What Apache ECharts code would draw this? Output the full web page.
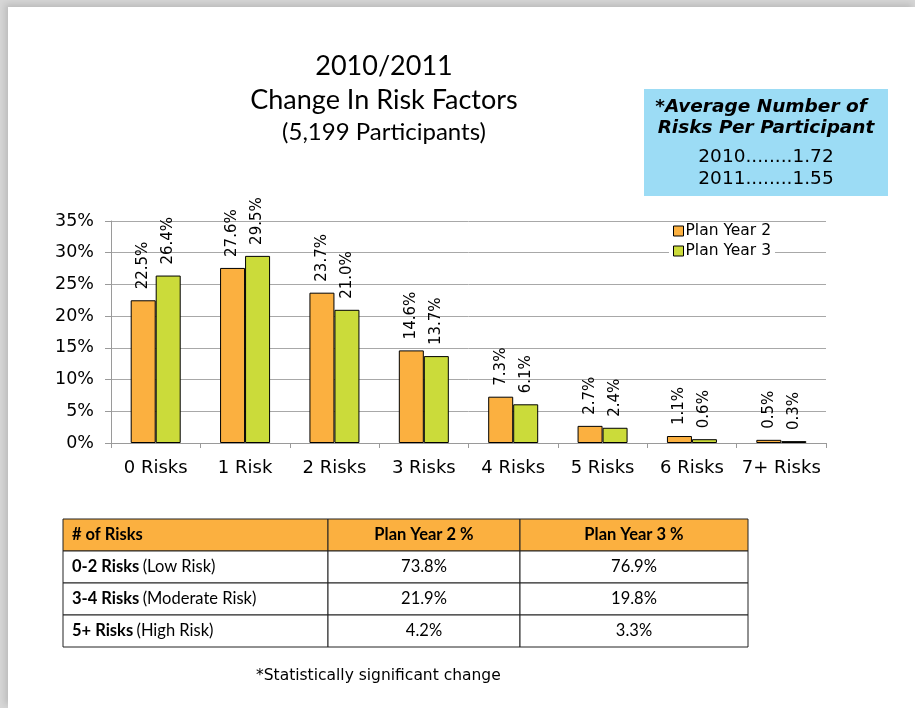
<!DOCTYPE html>
<html>
<head>
<meta charset="utf-8">
<script src="https://cdn.jsdelivr.net/npm/echarts@6/dist/echarts.min.js"></script>
<style>
  html, body { margin: 0; padding: 0; }
  body { width: 915px; height: 708px; background: #d6d6d6; position: relative; overflow: hidden; }
  #paper { position: absolute; left: 8px; top: 7px; right: 0; bottom: 0; background: #fff; box-shadow: -3px -3px 6px rgba(0,0,0,0.12); }
  #chart { position: absolute; left: 0; top: 0; width: 915px; height: 708px; }
</style>
</head>
<body>
<div id="paper"></div>
<div id="chart"></div>
<script>
// bar chart data
const categories = ["0 Risks", "1 Risk", "2 Risks", "3 Risks", "4 Risks", "5 Risks", "6 Risks", "7+ Risks"];
const planYear2 = [22.5, 27.6, 23.7, 14.6, 7.3, 2.7, 1.1, 0.5];
const planYear3 = [26.4, 29.5, 21.0, 13.7, 6.1, 2.4, 0.6, 0.3];

// blue box
const avgYears = ["2010", "2011"];
const avgValues = ["1.72", "1.55"];

// summary table
const tableHeader = ["# of Risks", "Plan Year 2 %", "Plan Year 3 %"];
const tableGroups = ["0-2 Risks", "3-4 Risks", "5+ Risks"];
const tableLevels = ["(Low Risk)", "(Moderate Risk)", "(High Risk)"];
const tableYear2 = ["73.8%", "21.9%", "4.2%"];
const tableYear3 = ["76.9%", "19.8%", "3.3%"];

const orange = "#fbb040";
const green = "#cbdb3a";
const verdana = "DejaVu Sans";
const calibri = "Lato";
const tableFont = "16.5px " + calibri;

var chart = echarts.init(document.getElementById("chart"));

// table built as graphic elements
var colX = [63, 328, 520, 748];
var rowY = [519, 551, 583, 615, 647];
var tableEls = [];
for (var r = 0; r < 4; r++) {
  for (var c = 0; c < 3; c++) {
    tableEls.push({
      type: "rect",
      shape: { x: colX[c], y: rowY[r], width: colX[c + 1] - colX[c], height: rowY[r + 1] - rowY[r] },
      style: { fill: r === 0 ? orange : "#fff", stroke: "#222", lineWidth: 1 }
    });
  }
}
// header texts
tableEls.push({
  type: "text", x: colX[0] + 9, y: (rowY[0] + rowY[1]) / 2,
  style: { text: tableHeader[0], font: "bold " + tableFont, fill: "#000", verticalAlign: "middle" }
});
for (var c = 1; c < 3; c++) {
  tableEls.push({
    type: "text", x: (colX[c] + colX[c + 1]) / 2, y: (rowY[0] + rowY[1]) / 2,
    style: { text: tableHeader[c], font: "bold " + tableFont, fill: "#000", align: "center", verticalAlign: "middle" }
  });
}
for (var i = 0; i < tableGroups.length; i++) {
  var cy = (rowY[i + 1] + rowY[i + 2]) / 2;
  tableEls.push({
    type: "text", x: colX[0] + 9, y: cy,
    style: {
      text: "{b|" + tableGroups[i] + "} {n|" + tableLevels[i] + "}",
      verticalAlign: "middle",
      rich: {
        b: { font: "bold " + tableFont, fill: "#000" },
        n: { font: tableFont, fill: "#000" }
      }
    }
  });
  tableEls.push({
    type: "text", x: (colX[1] + colX[2]) / 2, y: cy,
    style: { text: tableYear2[i], font: tableFont, fill: "#000", align: "center", verticalAlign: "middle" }
  });
  tableEls.push({
    type: "text", x: (colX[2] + colX[3]) / 2, y: cy,
    style: { text: tableYear3[i], font: tableFont, fill: "#000", align: "center", verticalAlign: "middle" }
  });
}

var barLabel = {
  show: true, position: "top", rotate: 90, align: "left", verticalAlign: "middle", distance: 11,
  fontFamily: verdana, fontSize: 15, color: "#000",
  formatter: function (p) { return p.value.toFixed(1) + "%"; }
};

var option = {
  backgroundColor: "transparent",
  animation: false,
  title: {
    text: "2010/2011\nChange In Risk Factors",
    subtext: "(5,199 Participants)",
    left: 379,
    top: 44,
    textAlign: "center",
    itemGap: 0,
    textStyle: { fontFamily: calibri, fontSize: 27, fontWeight: "normal", color: "#000", lineHeight: 34 },
    subtextStyle: { fontFamily: calibri, fontSize: 24, color: "#000", lineHeight: 30 }
  },
  legend: {
    orient: "vertical",
    left: 669,
    top: 223,
    padding: [0, 4, 0, 4],
    backgroundColor: "#fff",
    itemWidth: 10,
    itemHeight: 10,
    itemGap: 4,
    icon: "rect",
    itemStyle: { borderColor: "#000", borderWidth: 1 },
    textStyle: { fontFamily: verdana, fontSize: 15.5, color: "#000", padding: [0, 0, 0, -3] },
    data: ["Plan Year 2", "Plan Year 3"]
  },
  grid: { left: 111, right: 89, top: 221, bottom: 265 },
  xAxis: {
    type: "category",
    data: categories,
    axisLine: { lineStyle: { color: "#9a9a9a" } },
    axisTick: { show: true, length: 5, lineStyle: { color: "#9a9a9a" } },
    axisLabel: { interval: 0, fontFamily: verdana, fontSize: 18, color: "#000", margin: 16 }
  },
  yAxis: {
    type: "value",
    min: 0,
    max: 35,
    interval: 5,
    axisLine: { show: true, lineStyle: { color: "#9a9a9a" } },
    axisTick: { show: true, length: 6, lineStyle: { color: "#9a9a9a" } },
    axisLabel: { fontFamily: verdana, fontSize: 17.5, color: "#000", margin: 17, formatter: "{value}%" },
    splitLine: { lineStyle: { color: "#a8a8a8" } }
  },
  series: [
    {
      name: "Plan Year 2",
      type: "bar",
      data: planYear2,
      barWidth: 25,
      barGap: "0%",
      itemStyle: { color: orange, borderColor: "#000", borderWidth: 1 },
      label: barLabel
    },
    {
      name: "Plan Year 3",
      type: "bar",
      data: planYear3,
      barWidth: 25,
      barGap: "0%",
      itemStyle: { color: green, borderColor: "#000", borderWidth: 1 },
      label: barLabel
    }
  ],
  graphic: [
    // blue info box
    { type: "rect", shape: { x: 644, y: 89, width: 244, height: 107 }, style: { fill: "#9cdcf5" } },
    { type: "text", x: 761, y: 107, style: { text: "*Average Number of", font: "italic bold 18.5px " + verdana, fill: "#000", align: "center", verticalAlign: "middle" } },
    { type: "text", x: 766, y: 128, style: { text: "Risks Per Participant", font: "italic bold 18.5px " + verdana, fill: "#000", align: "center", verticalAlign: "middle" } },
    { type: "text", x: 766, y: 157, style: { text: avgYears[0] + "........" + avgValues[0], font: "18.5px " + verdana, fill: "#000", align: "center", verticalAlign: "middle" } },
    { type: "text", x: 766, y: 179, style: { text: avgYears[1] + "........" + avgValues[1], font: "18.5px " + verdana, fill: "#000", align: "center", verticalAlign: "middle" } },
    // footnote
    { type: "text", x: 256, y: 676, style: { text: "*Statistically significant change", font: "15.5px " + verdana, fill: "#000", verticalAlign: "middle" } }
  ].concat(tableEls)
};

chart.setOption(option);
</script>
</body>
</html>
